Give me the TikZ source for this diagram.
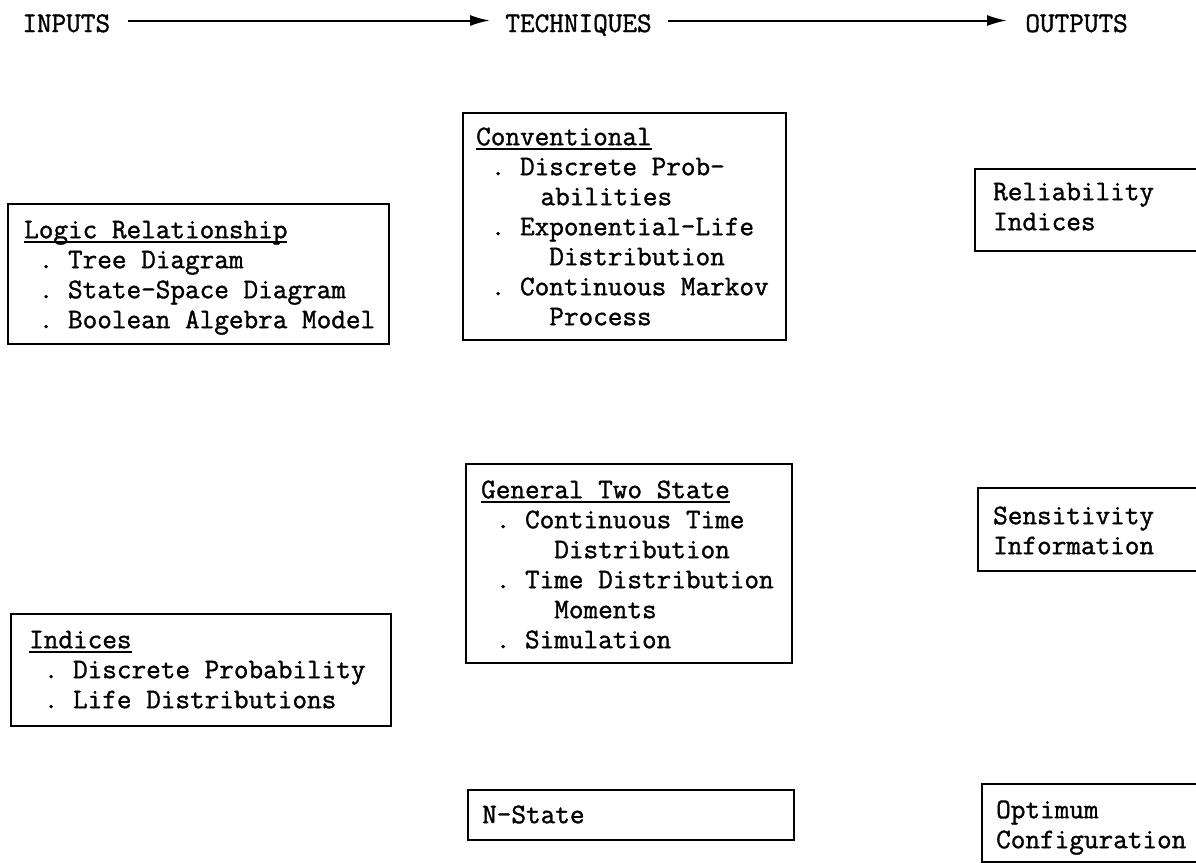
\documentclass[tikz,border=0pt]{standalone}
\usepackage{fontspec}
\usetikzlibrary{arrows.meta}

% typewriter face used for every label, slightly heavier than the plain cut
\newfontfamily\typer{Latin Modern Mono}[FakeBold=1.2]
\newcommand\bodyfont{\typer\fontsize{14.2pt}{15pt}\selectfont}
% one blank character cell, so columns line up as on a typewriter
\newcommand\sk{\phantom{x}}
% heading line of a panel, underlined straight through the descenders
\newcommand\hdr[1]{\setbox0\hbox{#1}\rlap{\rule[-2.4pt]{\wd0}{1pt}}\box0}

\tikzset{
  panel/.style={draw, line width=1.2pt, anchor=north west, inner ysep=0pt,
                align=left, font=\bodyfont},
  colhead/.style={inner sep=0pt, anchor=base west, font=\bodyfont,
                  text height=8.5pt, text depth=0pt},
  flow/.style={line width=1pt, -{Latex[length=10pt,width=5.5pt]}},
}

\begin{document}
\begin{tikzpicture}[x=0.5pt,y=-0.5pt]
\useasboundingbox (0,0) rectangle (1196,863);
\clip (0,0) rectangle (1196,863);

% column headings
\node[colhead] (inputs)     at (22,32)   {INPUTS};
\node[colhead] (techniques) at (505,32)  {TECHNIQUES};
\node[colhead] (outputs)    at (1025,32) {OUTPUTS};
\draw[flow, shorten <=8.5pt, shorten >=7.5pt]
  ([yshift=1.5pt]inputs.east) -- ([yshift=1.5pt]techniques.west);
\draw[flow, shorten <=8pt, shorten >=9pt]
  ([yshift=1.5pt]techniques.east) -- ([yshift=1.5pt]outputs.west);

% inputs
\node[panel, inner xsep=8pt, text width=174.5pt, text height=17pt, text depth=53pt]
  (logic) at (7,203)
  {\hdr{Logic\sk Relationship}\\
   \mbox{\sk.\sk Tree\sk Diagram}\\
   \mbox{\sk.\sk State-Space\sk Diagram}\\
   \mbox{\sk.\sk Boolean\sk Algebra\sk Model}};

\node[panel, inner xsep=9pt, text width=172pt, text height=17pt, text depth=39pt]
  (indices) at (10,613)
  {\hdr{Indices}\\
   \mbox{\sk.\sk Discrete\sk Probability}\\
   \mbox{\sk.\sk Life\sk Distributions}};

% techniques
\node[panel, inner xsep=6.5pt, text width=148.5pt, text height=16pt, text depth=97.5pt]
  (conventional) at (462,112)
  {\hdr{Conventional}\\
   \mbox{\sk.\sk Discrete\sk Prob-}\\
   \mbox{\sk\sk\sk\sk\kern2.9pt abilities}\\
   \mbox{\sk.\sk Exponential-Life}\\
   \mbox{\sk\sk\sk\sk\sk Distribution}\\
   \mbox{\sk.\sk Continuous\sk Markov}\\
   \mbox{\sk\sk\sk\sk\sk Process}};

\node[panel, inner xsep=7.5pt, text width=148pt, text height=17pt, text depth=82.5pt]
  (twostate) at (465,463)
  {\hdr{General\sk Two\sk State}\\
   \mbox{\sk.\sk Continuous\sk Time}\\
   \mbox{\sk\sk\sk\sk\sk Distribution}\\
   \mbox{\sk.\sk Time\sk Distribution}\\
   \mbox{\sk\sk\sk\sk\sk Moments}\\
   \mbox{\sk.\sk Simulation}};

\node[panel, inner xsep=7pt, text width=149pt, text height=16.5pt, text depth=8.5pt]
  (nstate) at (467,789)
  {\mbox{N-State}};

% outputs
\node[panel, inner xsep=9pt, text width=110pt, text height=15.5pt, text depth=25.5pt]
  (reliability) at (974,168)
  {\mbox{Reliability}\\ \mbox{Indices}};

\node[panel, inner xsep=7.5pt, text width=111.5pt, text height=18pt, text depth=23.5pt]
  (sensitivity) at (977,487)
  {\mbox{Sensitivity}\\ \mbox{Information}};

\node[panel, inner xsep=7pt, text width=110.5pt, text height=17pt, text depth=22pt]
  (optimum) at (981,783)
  {\mbox{Optimum}\\ \mbox{Configuration}};
\end{tikzpicture}
\end{document}
